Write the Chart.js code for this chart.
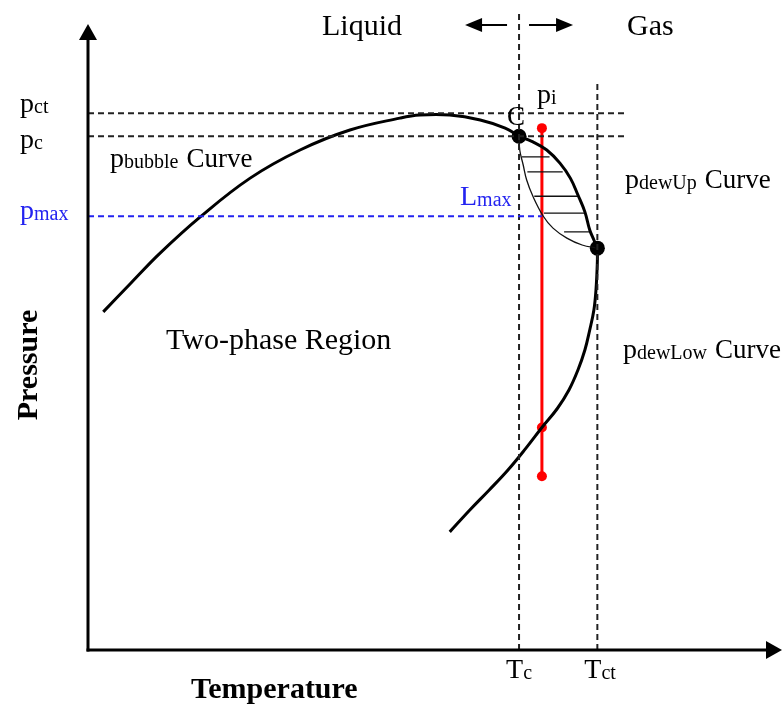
<!DOCTYPE html>
<html>
<head>
<meta charset="utf-8">
<script src="https://cdn.jsdelivr.net/npm/chart.js@4.4.1/dist/chart.umd.min.js"></script>
<style>
  body { margin: 0; background: #fff; }
  #phase { display: block; }
</style>
</head>
<body>
<canvas id="phase" width="783" height="706"></canvas>
<script>
// critical point, cricondenbar / cricondentherm and the test temperature
const Tc = 62.2, Tct = 73.5;
const pc = 82.2, pct = 85.9, pmax = 69.4;
const Ti = 65.5;
const pCricon = 64.3;

// bubble point curve up to C
const bubbleT = [2.2, 6.1, 10.4, 16.2, 23.4, 30.6, 37.8, 45.0, 47.9, 52.2, 56.6, 60.2, 62.2];
const bubbleP = [54.1, 58.6, 63.5, 69.3, 75.5, 80.0, 83.2, 85.1, 85.6, 85.6, 84.8, 83.5, 82.2];

// upper dew curve (C -> cricondentherm)
const dewUpT = [62.2, 64.2, 66.2, 68.1, 69.6, 70.7, 71.7, 72.4, 73.0, 73.5];
const dewUpP = [82.2, 81.3, 80.0, 77.9, 75.5, 72.8, 70.1, 67.2, 65.6, 64.3];

// inner boundary of the retrograde zone
const innerT = [62.2, 62.3, 62.8, 63.3, 64.2, 65.7, 67.1, 69.1, 71.3, 73.5];
const innerP = [82.2, 80.0, 77.6, 75.2, 72.6, 69.4, 67.5, 65.9, 64.8, 64.3];

// lower dew curve
const dewLowT = [73.5, 73.5, 73.3, 73.0, 72.4, 71.7, 70.7, 69.4, 67.7, 65.5, 63.2, 60.6, 57.9, 55.1, 52.2];
const dewLowP = [64.3, 62.1, 57.6, 54.4, 51.2, 48.0, 44.8, 41.6, 38.6, 35.6, 32.3, 28.8, 25.6, 22.4, 18.9];

// hatching inside the retrograde zone
const hatchP = [78.9, 76.5, 72.6, 69.9, 66.9];
const hatchLeft = [62.6, 63.4, 64.4, 65.8, 68.7];
const hatchRight = [66.6, 68.5, 70.7, 71.6, 72.4];

// isothermal path at Ti
const pathP = [83.5, 35.6, 27.8];

// axis markers
const pTicks = [pct, pc, pmax];
const pTickSub = ['ct', 'c', 'max'];
const tTicks = [Tc, Tct];
const tTickSub = ['c', 'ct'];

const pts = (xs, ys) => xs.map((x, i) => ({ x: x, y: ys[i] }));
const hatchData = hatchP.flatMap((p, i) => [
  { x: hatchLeft[i], y: p }, { x: hatchRight[i], y: p }, { x: NaN, y: NaN }
]);

const SERIF = '"Liberation Serif", "Times New Roman", serif';
const BLUE = '#2323f0';

function subText(ctx, x, y, base, sub, color, tail) {
  ctx.fillStyle = color;
  ctx.font = '28px ' + SERIF;
  ctx.fillText(base, x, y);
  let cx = x + ctx.measureText(base).width;
  ctx.font = '20px ' + SERIF;
  ctx.fillText(sub, cx, y + 1);
  cx += ctx.measureText(sub).width;
  if (tail) {
    ctx.font = '27px ' + SERIF;
    ctx.fillText(tail, cx + 8, y);
  }
}

function arrow(ctx, x0, y0, x1, y1, len, half) {
  const a = Math.atan2(y1 - y0, x1 - x0);
  ctx.beginPath();
  ctx.moveTo(x0, y0);
  ctx.lineTo(x1 - Math.cos(a) * len * 0.8, y1 - Math.sin(a) * len * 0.8);
  ctx.stroke();
  ctx.beginPath();
  ctx.moveTo(x1, y1);
  ctx.lineTo(x1 - Math.cos(a) * len - Math.sin(a) * half, y1 - Math.sin(a) * len + Math.cos(a) * half);
  ctx.lineTo(x1 - Math.cos(a) * len + Math.sin(a) * half, y1 - Math.sin(a) * len - Math.cos(a) * half);
  ctx.closePath();
  ctx.fill();
}

const decor = {
  id: 'decor',
  afterDatasetsDraw(chart) {
    const ctx = chart.ctx;
    const xs = chart.scales.x, ys = chart.scales.y;
    const area = chart.chartArea;
    const x0 = xs.getPixelForValue(0), y0 = ys.getPixelForValue(0);
    ctx.save();
    ctx.strokeStyle = '#000';
    ctx.fillStyle = '#000';

    // axes with arrow heads
    ctx.lineWidth = 3;
    arrow(ctx, x0, y0 + 1.5, x0, area.top - 1, 16, 9);
    arrow(ctx, x0 - 1.5, y0, area.right + 1, y0, 16, 9);

    // Liquid <- | -> Gas
    ctx.lineWidth = 2;
    const ya = area.top;
    const xc = xs.getPixelForValue(Tc);
    arrow(ctx, xc - 12, ya, xc - 54, ya, 17, 7);
    arrow(ctx, xc + 10, ya, xc + 54, ya, 17, 7);

    ctx.textBaseline = 'alphabetic';
    ctx.textAlign = 'left';
    ctx.font = '30px ' + SERIF;
    ctx.fillText('Liquid', 322, 35);
    ctx.fillText('Gas', 627, 35);
    ctx.fillText('Two-phase Region', 166, 349);
    ctx.font = '27px ' + SERIF;
    ctx.fillText('C', xc - 12, ys.getPixelForValue(pc) - 11);

    // pressure markers on the y axis
    const pOffsets = [-1, 12, 3];
    pTicks.forEach((p, i) => {
      subText(ctx, 20, ys.getPixelForValue(p) + pOffsets[i], 'p', pTickSub[i],
        p === pmax ? BLUE : '#000');
    });
    // temperature markers under the x axis
    tTicks.forEach((t, i) => {
      subText(ctx, xs.getPixelForValue(t) - 13, y0 + 28, 'T', tTickSub[i], '#000');
    });

    // curve names
    subText(ctx, 110, 167, 'p', 'bubble', '#000', 'Curve');
    subText(ctx, 625, 188, 'p', 'dewUp', '#000', 'Curve');
    subText(ctx, 623, 358, 'p', 'dewLow', '#000', 'Curve');
    subText(ctx, 460, 205, 'L', 'max', BLUE);
    subText(ctx, xs.getPixelForValue(Ti) - 5, 103, 'p', 'i', '#000');

    // axis titles
    ctx.fillStyle = '#000';
    ctx.font = 'bold 30px ' + SERIF;
    ctx.fillText('Temperature', 191, 698);
    ctx.translate(37, 365);
    ctx.rotate(-Math.PI / 2);
    ctx.textAlign = 'center';
    ctx.fillText('Pressure', 0, 0);
    ctx.restore();
  }
};

const dashed = (data, color, extra) => Object.assign({
  data: data, showLine: true, borderColor: color, borderWidth: 2,
  borderDash: [6, 4], pointRadius: 0, tension: 0
}, extra || {});

new Chart(document.getElementById('phase'), {
  type: 'scatter',
  data: {
    datasets: [
      dashed([{ x: 0, y: pct }, { x: 77.9, y: pct }], '#222'),
      dashed([{ x: 0, y: pc }, { x: 77.9, y: pc }], '#222'),
      dashed([{ x: 0, y: pmax }, { x: Ti, y: pmax }], BLUE),
      dashed([{ x: Tc, y: 0 }, { x: Tc, y: 102.4 }], '#222', { clip: false }),
      dashed([{ x: Tct, y: 0 }, { x: Tct, y: 91.2 }], '#222'),
      {
        data: pts(bubbleT, bubbleP), showLine: true, borderColor: '#000',
        borderWidth: 3, pointRadius: 0, tension: 0.4
      },
      {
        data: pts(dewUpT, dewUpP), showLine: true, borderColor: '#000',
        borderWidth: 3, pointRadius: 0, tension: 0.4
      },
      {
        data: pts(innerT, innerP), showLine: true, borderColor: '#111',
        borderWidth: 1.3, pointRadius: 0, tension: 0.4
      },
      {
        data: pts(dewLowT, dewLowP), showLine: true, borderColor: '#000',
        borderWidth: 3, pointRadius: 0, tension: 0.4
      },
      {
        data: hatchData, showLine: true, spanGaps: false, borderColor: '#111',
        borderWidth: 1.3, pointRadius: 0, tension: 0
      },
      {
        data: pathP.map(p => ({ x: Ti, y: p })), showLine: true,
        borderColor: '#ff0000', backgroundColor: '#ff0000', borderWidth: 3,
        pointRadius: 5, pointBorderWidth: 0, tension: 0
      },
      {
        data: [{ x: Tc, y: pc }, { x: Tct, y: pCricon }], showLine: false,
        backgroundColor: '#000', borderColor: '#000', pointRadius: 7.5, pointBorderWidth: 0
      }
    ]
  },
  options: {
    responsive: false,
    animation: false,
    layout: { autoPadding: false, padding: { left: 88, right: 2, top: 25, bottom: 56 } },
    scales: {
      x: { type: 'linear', min: 0, max: 100, display: false },
      y: { type: 'linear', min: 0, max: 100, display: false }
    },
    plugins: { legend: { display: false }, tooltip: { enabled: false } }
  },
  plugins: [decor]
});
</script>
</body>
</html>
